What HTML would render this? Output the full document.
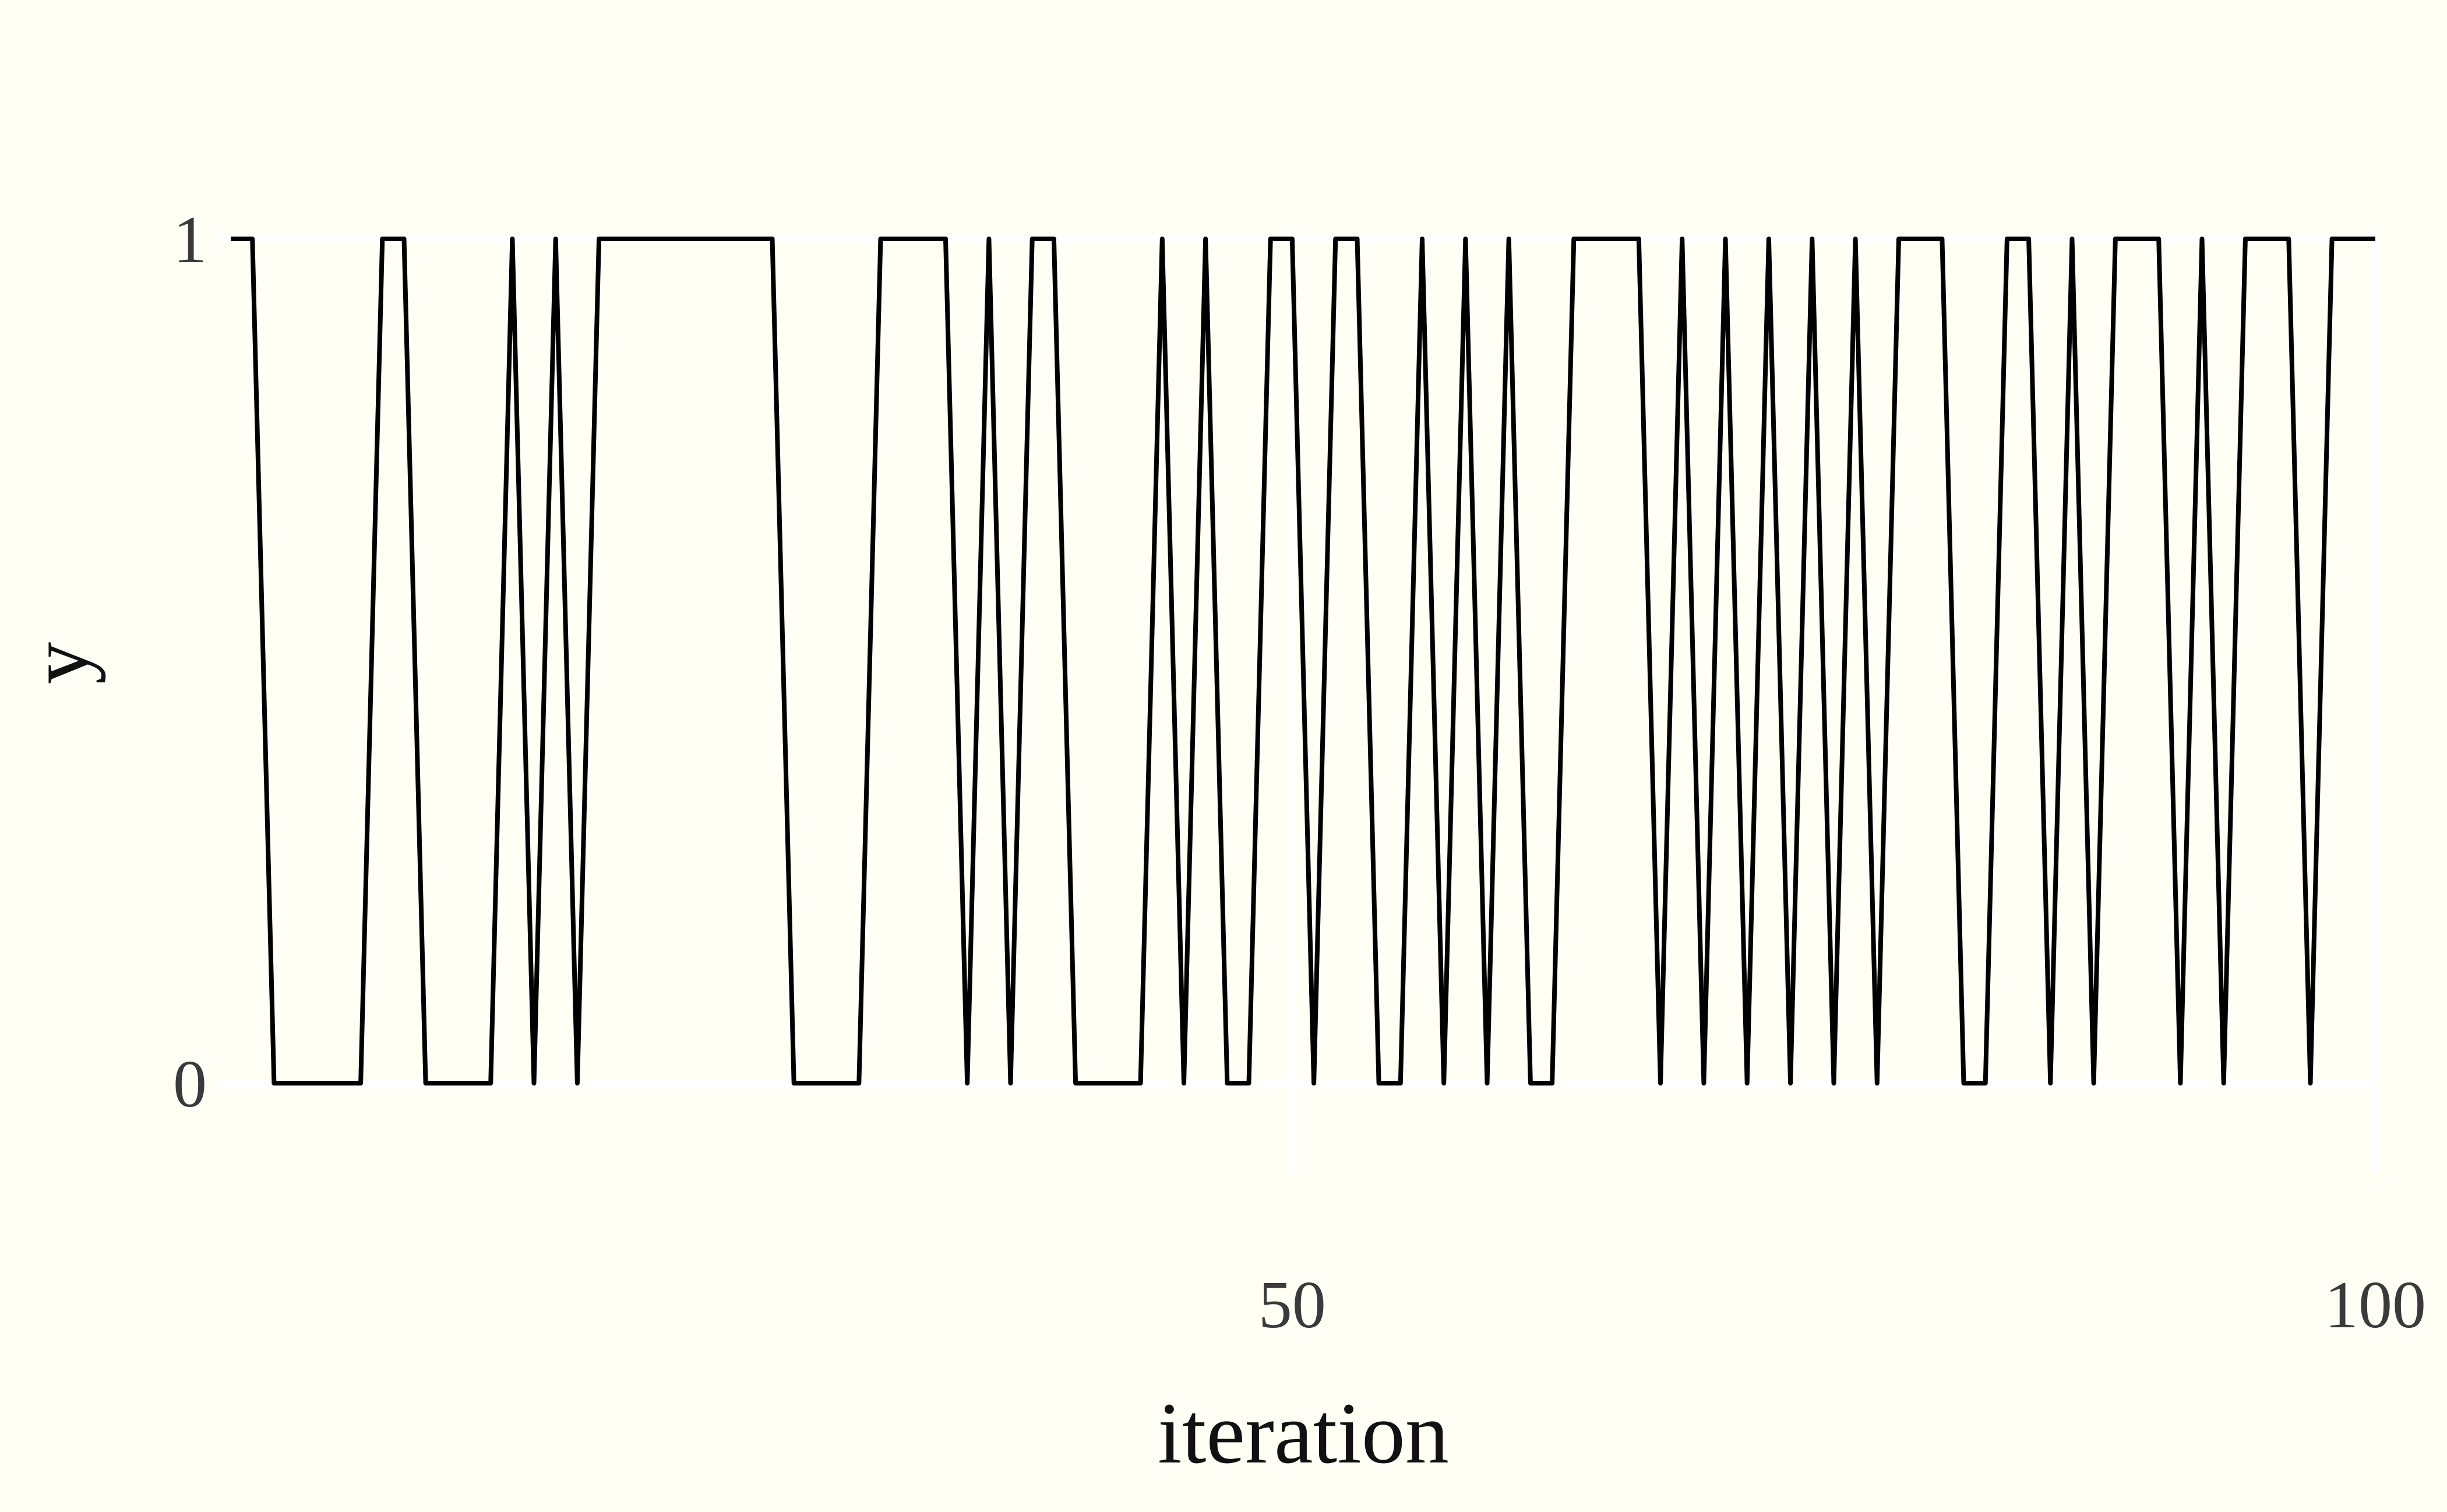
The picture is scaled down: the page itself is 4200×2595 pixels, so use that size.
<!DOCTYPE html>
<html><head><meta charset="utf-8">
<style>
html,body{margin:0;padding:0;background:#fffff5;}
svg{display:block;}
text{font-family:"Liberation Serif",serif;}
</style></head>
<body>
<svg id="chart" width="4200" height="2595" viewBox="0 0 4200 2595" xmlns="http://www.w3.org/2000/svg">
<rect x="0" y="0" width="4200" height="2595" fill="#fffff5"/>
<g id="grid"></g>
<g id="ticks"></g>
<path id="series" fill="none" stroke="#000" stroke-width="8" stroke-linejoin="round"/>
<text x="2237" y="2510" font-size="150" text-anchor="middle" fill="#111">iteration</text>
<text x="0" y="0" font-size="145" text-anchor="middle" fill="#111" transform="translate(150,1138) rotate(-90)">y</text>
</svg>
<script>
const iterations = [];
for (let i = 1; i <= 100; i++) iterations.push(i);
const yValues = [1,1,0,0,0,0,0,1,1,0, 0,0,0,1,0,1,0,1,1,1, 1,1,1,1,1,1,0,0,0,0, 1,1,1,1,0,1,0,1,1,0, 0,0,0,1,0,1,0,0,1,1, 0,1,1,0,0,1,0,1,0,1, 0,0,1,1,1,1,0,1,0,1, 0,1,0,1,0,1,0,1,1,1, 0,0,1,1,0,1,0,1,1,1, 0,1,0,1,1,1,0,1,1,1];
const xTicks = [50, 100];
const yTicks = [0, 1];

const X0 = 396, X1 = 4077, Y0 = 1859, Y1 = 410;
function xs(v){ return X0 + (v - 1) * (X1 - X0) / 99; }
function ys(v){ return Y0 + v * (Y1 - Y0); }
const NS = "http://www.w3.org/2000/svg";
const grid = document.getElementById('grid');
const ticks = document.getElementById('ticks');

yTicks.forEach(t => {
  const l = document.createElementNS(NS, 'line');
  
  
  l.setAttribute('x1', X0 - 20); l.setAttribute('x2', X1);
  l.setAttribute('y1', ys(t)); l.setAttribute('y2', ys(t));
  l.setAttribute('stroke', '#ffffff'); l.setAttribute('stroke-width', '12');
  grid.appendChild(l);
  const tx = document.createElementNS(NS, 'text');
  
  
  tx.setAttribute('x', 355); tx.setAttribute('y', ys(t) + 40);
  tx.setAttribute('font-size', '116'); tx.setAttribute('text-anchor', 'end');
  tx.setAttribute('fill', '#3a3a3a');
  tx.textContent = t;
  ticks.appendChild(tx);
});
xTicks.forEach(t => {
  const l = document.createElementNS(NS, 'line');
  
  
  l.setAttribute('x1', xs(t)); l.setAttribute('x2', xs(t));
  l.setAttribute('y1', Y1 - 20); l.setAttribute('y2', 2010);
  l.setAttribute('stroke', '#ffffff'); l.setAttribute('stroke-width', '12');
  grid.appendChild(l);
  const tx = document.createElementNS(NS, 'text');
  
  
  tx.setAttribute('x', xs(t)); tx.setAttribute('y', 2278);
  tx.setAttribute('font-size', '116'); tx.setAttribute('text-anchor', 'middle');
  tx.setAttribute('fill', '#3a3a3a');
  tx.textContent = t;
  ticks.appendChild(tx);
});
let d = '';
iterations.forEach((it, i) => {
  d += (i === 0 ? 'M' : 'L') + xs(it).toFixed(1) + ' ' + ys(yValues[i]).toFixed(1) + ' ';
});
document.getElementById('series').setAttribute('d', d);
</script>
</body></html>
